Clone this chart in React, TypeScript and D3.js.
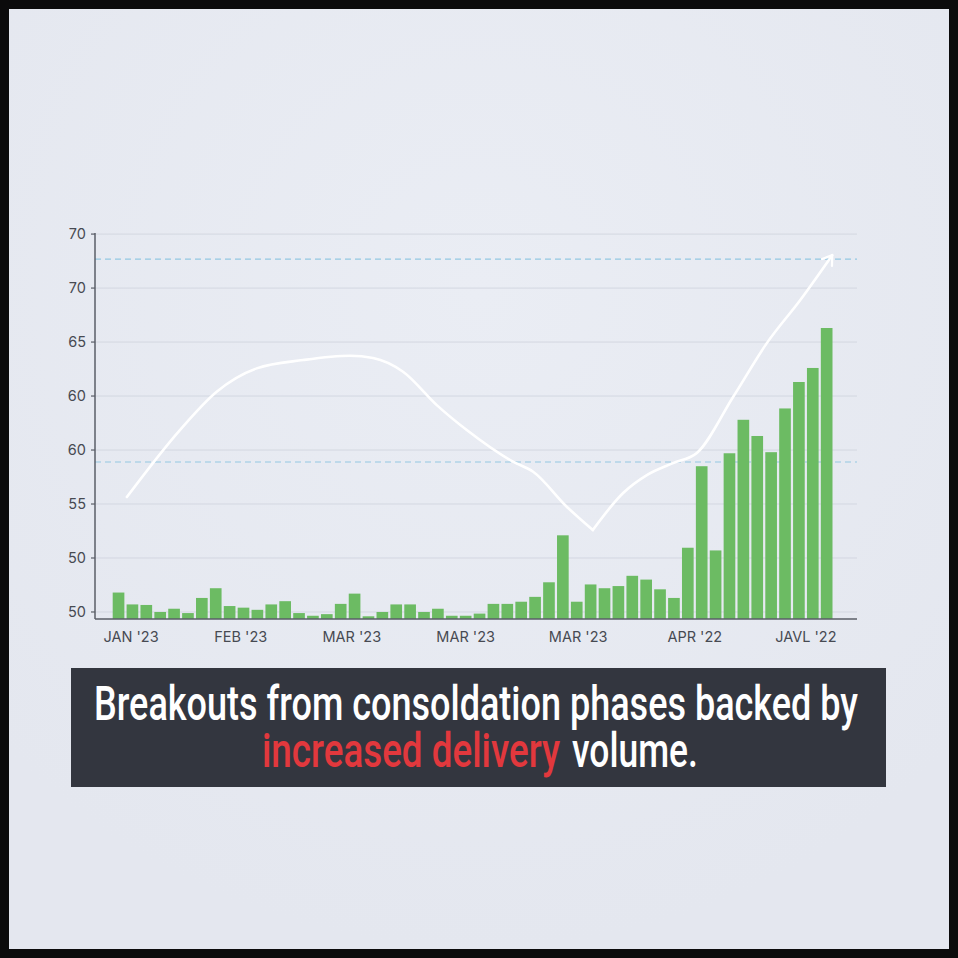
import React from 'react';
import * as d3 from 'd3';

const W = 958;
const H = 958;

// Delivery volume bars (in axis units)
const volume = [
  51.8, 50.7, 50.65, 50.0, 50.3, 49.9, 51.3, 52.2, 50.55, 50.4,
  50.2, 50.7, 51.0, 49.9, 49.65, 49.8, 50.75, 51.7, 49.6, 50.0,
  50.7, 50.7, 50.0, 50.3, 49.65, 49.65, 49.85, 50.75, 50.75, 50.95,
  51.4, 52.75, 57.1, 50.95, 52.55, 52.2, 52.4, 53.35, 53.0, 52.1,
  51.3, 55.95, 63.5, 55.7, 64.7, 67.8, 66.3, 64.8, 68.85, 71.3, 72.6, 76.3,
];

// Price trend line (bar index position, value)
const trendIdx = [0.6, 4.42, 7.07, 9.95, 13.29, 16.67, 18.33, 20.49, 22.92, 25.08, 28.41, 29.86, 32.28, 34.16, 36.34, 38.05, 39.94, 41.65, 44.27, 46.69, 49.1, 51.4];
const trendVal = [60.65, 66.85, 70.4, 72.56, 73.33, 73.73, 73.52, 72.25, 69.16, 66.85, 63.92, 62.99, 59.75, 57.59, 61.02, 62.68, 63.79, 64.72, 69.93, 74.9, 78.9, 83.05];
// index of the sharp low point of the trend (V-shaped turn)
const trendTurn = 13;

// Dashed reference levels
const levels = [82.68, 63.89];

// Y ticks
const yTickValues = [50, 55, 60, 65, 70, 75, 80, 85];
const yTickLabels = ['50', '50', '55', '60', '60', '65', '70', '70'];

// X labels
const xLabels = ["JAN '23", "FEB '23", "MAR '23", "MAR '23", "MAR '23", "APR '22", "JAVL '22"];
const xLabelIdx = [0.9, 8.8, 16.8, 25, 33.1, 41.5, 49.5];

const titleLine1 = 'Breakouts from consoldation phases backed by';
const titleRed = 'increased delivery';
const titleWhite = 'volume.';

export default function App() {
  const plotLeft = 95;
  const plotRight = 857;
  const y = d3.scaleLinear().domain([49.35, 85.1]).range([619, 233]);
  const x = d3
    .scaleBand<number>()
    .domain(volume.map((_, i) => i))
    .range([112.7, 832.5])
    .paddingInner(0.16)
    .paddingOuter(0);
  const bw = x.bandwidth();
  const xc = d3
    .scaleLinear()
    .domain([0, volume.length - 1])
    .range([(x(0) as number) + bw / 2, (x(volume.length - 1) as number) + bw / 2]);

  const base = y.range()[0];
  const pts: [number, number][] = trendIdx.map((t, i) => [xc(t), y(trendVal[i])]);
  const line = d3.line().curve(d3.curveMonotoneX);
  const seg1 = line(pts.slice(0, trendTurn + 1)) || '';
  const seg2 = line(pts.slice(trendTurn)) || '';

  const axisFont = 'Inter, "Liberation Sans", Arial, sans-serif';
  const titleFont = 'Roboto, "DejaVu Sans", sans-serif';
  const sy = 1.37;

  return (
    <svg
      width={W}
      height={H}
      viewBox={`0 0 ${W} ${H}`}
      style={{ position: 'absolute', left: 0, top: 0, display: 'block' }}
    >
      <defs>
        <marker
          id="arrowHead"
          viewBox="-12 -8 14 16"
          markerWidth={14}
          markerHeight={16}
          refX={0}
          refY={0}
          orient="auto"
          markerUnits="userSpaceOnUse"
        >
          <path d="M-9,-6 L0,0 L-9,6" fill="none" stroke="#ffffff" strokeWidth={2.2} strokeLinecap="round" strokeLinejoin="round" />
        </marker>
        <radialGradient id="bgGlow" cx="0.5" cy="0.3" r="0.7">
          <stop offset="0" stopColor="#eaedf4" />
          <stop offset="1" stopColor="#e4e7ef" />
        </radialGradient>
      </defs>
      <rect x={0} y={0} width={W} height={H} fill="#0b0b0c" />
      <rect x={9} y={9} width={940} height={940} fill="url(#bgGlow)" />

      {/* gridlines */}
      {yTickValues.map((v, i) => (
        <line key={'g' + i} x1={plotLeft} x2={plotRight} y1={y(v)} y2={y(v)} stroke="#d3d7e1" strokeWidth={1} />
      ))}

      {/* dashed levels */}
      {levels.map((v, i) => (
        <line
          key={'l' + i}
          x1={plotLeft}
          x2={plotRight}
          y1={y(v)}
          y2={y(v)}
          stroke="#94c8e2"
          strokeWidth={1.2}
          strokeDasharray="6 4"
        />
      ))}

      {/* bars */}
      {volume.map((v, i) => (
        <rect key={'b' + i} x={x(i)} y={y(v)} width={bw} height={base - y(v)} fill="#6cbb63" />
      ))}

      {/* axes */}
      <line x1={plotLeft} x2={plotLeft} y1={y.range()[1]} y2={base} stroke="#5a5e67" strokeWidth={1.5} />
      <line x1={plotLeft} x2={plotRight} y1={base} y2={base} stroke="#5a5e67" strokeWidth={1.5} />
      {yTickValues.map((v, i) => (
        <g key={'t' + i}>
          <line x1={plotLeft - 4} x2={plotLeft} y1={y(v)} y2={y(v)} stroke="#5a5e67" strokeWidth={1.2} />
          <text
            x={plotLeft - 9}
            y={y(v)}
            dy="0.36em"
            textAnchor="end"
            fontFamily={axisFont}
            fontSize={14.5}
            fill="#474a52"
          >
            {yTickLabels[i]}
          </text>
        </g>
      ))}
      {xLabels.map((t, i) => (
        <text
          key={'x' + i}
          x={xc(xLabelIdx[i])}
          y={642}
          textAnchor="middle"
          fontFamily={axisFont}
          fontSize={14.5}
          fill="#474a52"
        >
          {t}
        </text>
      ))}

      {/* trend line */}
      <path d={seg1} fill="none" stroke="#ffffff" strokeWidth={2.6} strokeLinecap="round" strokeLinejoin="round" />
      <path
        d={seg2}
        fill="none"
        stroke="#ffffff"
        strokeWidth={2.6}
        strokeLinecap="round"
        strokeLinejoin="round"
        markerEnd="url(#arrowHead)"
      />

      {/* title box */}
      <rect x={71} y={668} width={815} height={119} fill="#33363f" />
      <g transform={`translate(0, 720) scale(1, ${sy})`}>
        <text
          x={94}
          y={0}
          fontFamily={titleFont}
          fontWeight={500}
          fontSize={35}
          fill="#ffffff"
          textLength={764}
          lengthAdjust="spacingAndGlyphs"
        >
          {titleLine1}
        </text>
      </g>
      <g transform={`translate(0, 767) scale(1, ${sy})`}>
        <text
          x={262}
          y={0}
          fontFamily={titleFont}
          fontWeight={500}
          fontSize={35}
          fill="#e2383d"
          textLength={298}
          lengthAdjust="spacingAndGlyphs"
        >
          {titleRed}
        </text>
        <text
          x={572}
          y={0}
          fontFamily={titleFont}
          fontWeight={500}
          fontSize={35}
          fill="#ffffff"
          textLength={126}
          lengthAdjust="spacingAndGlyphs"
        >
          {titleWhite}
        </text>
      </g>
    </svg>
  );
}
